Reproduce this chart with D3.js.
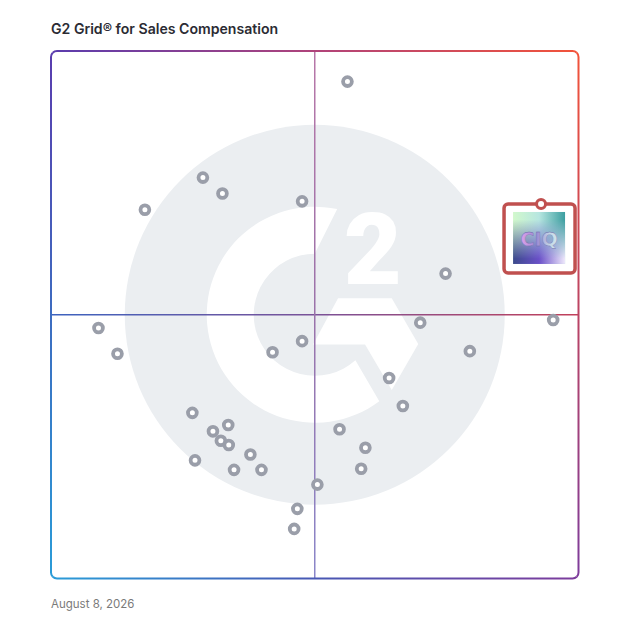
<!DOCTYPE html>
<html>
<head>
<meta charset="utf-8">
<script src="https://cdn.jsdelivr.net/npm/d3@7"></script>
<style>
  body { margin: 0; background: #fff; }
  svg { display: block; }
</style>
</head>
<body>
<svg id="grid" width="628" height="628"></svg>
<script>
const title = "G2 Grid® for Sales Compensation";
const date_label = "August 8, 2026";

// market presence (x) and satisfaction (y), both on a 0-100 scale
const presence = [
  28.8, 32.5, 17.8, 47.6, 74.8, 70.0, 12.6, 47.6, 42.0, 79.4,
  64.1, 66.7, 26.8, 33.6, 30.7, 32.2, 33.7, 54.7, 59.6, 37.8,
  27.3, 34.7, 39.9, 58.8, 50.5, 46.7, 56.2, 9.0, 95.2, 46.1,
];
const satisfaction = [
  76.0, 73.0, 69.9, 71.5, 57.8, 48.5, 42.6, 45.0, 42.9, 43.1,
  38.0, 32.7, 31.4, 29.1, 27.9, 26.1, 25.3, 28.3, 24.8, 23.5,
  22.4, 20.6, 20.6, 20.8, 17.8, 13.2, 94.2, 47.5, 49.0, 9.4,
];

const featured_name = ["CIQ"];
const featured_presence = [92.9];
const featured_satisfaction = [71.0];

const axis_domain = [0, 100];
const axis_split = [50];

let grid = {
  margin: { left: 51, right: 49.5, top: 51, bottom: 49.5 },
  svg: null,
  x: null,
  y: null,
};

function add_gradient(defs, id, x1, y1, x2, y2, stops) {
  const g = defs
    .append("linearGradient")
    .attr("id", id)
    .attr("gradientUnits", "userSpaceOnUse")
    .attr("x1", x1)
    .attr("y1", y1)
    .attr("x2", x2)
    .attr("y2", y2);
  stops.forEach((s) =>
    g.append("stop").attr("offset", s[0]).attr("stop-color", s[1]),
  );
}

function draw_logo(svg, cx, cy) {
  // faint G2 mark behind the points
  const logo = svg.append("g").attr("transform", `translate(${cx},${cy})`);
  logo.append("circle").attr("r", 190).attr("fill", "#ebeef1");

  const rad = (a) => (a * Math.PI) / 180;
  const pt = (r, a) => [r * Math.cos(rad(a)), r * Math.sin(rad(a))];
  const ot = pt(108, -78),
    ob = pt(108, 53.3),
    ib = pt(61, 48.2),
    it = pt(61, -90);
  logo
    .append("path")
    .attr("fill", "#fff")
    .attr(
      "d",
      `M${ot} A108 108 0 1 0 ${ob} L${ib} A61 61 0 1 1 ${it} Z`,
    );

  const chevron = [
    [23.3, -16.5],
    [77, -16.5],
    [103.5, 29.3],
    [77, 75.3],
    [50.3, 29.7],
    [-1.7, 29.7],
  ];
  logo
    .append("path")
    .attr("fill", "#fff")
    .attr("d", d3.line()(chevron) + "Z");

  logo
    .append("text")
    .attr("x", 58)
    .attr("y", -31)
    .attr("text-anchor", "middle")
    .attr("font-family", "Roboto, sans-serif")
    .attr("font-weight", 900)
    .attr("font-size", 100)
    .attr("fill", "#fff")
    .text("2");
}

function draw_frame(svg, defs, x0, y0, x1, y1) {
  const r = 6;
  const c = r * Math.SQRT1_2;

  add_gradient(defs, "frame-top", x0, 0, x1, 0, [
    [0, "#5a3cae"],
    [0.5, "#b0437a"],
    [1, "#f2533a"],
  ]);
  add_gradient(defs, "frame-right", 0, y0, 0, y1, [
    [0, "#f2533a"],
    [0.5, "#bb4464"],
    [1, "#7d3c9c"],
  ]);
  add_gradient(defs, "frame-bottom", x0, 0, x1, 0, [
    [0, "#2a9cd8"],
    [0.5, "#4858b4"],
    [1, "#7d3c9c"],
  ]);
  add_gradient(defs, "frame-left", 0, y0, 0, y1, [
    [0, "#5a3cae"],
    [0.5, "#3d6cc0"],
    [1, "#2a9cd8"],
  ]);

  const sides = [
    {
      id: "frame-top",
      d: `M${x0 + r - c},${y0 + r - c} A${r} ${r} 0 0 1 ${x0 + r},${y0} L${x1 - r},${y0} A${r} ${r} 0 0 1 ${x1 - r + c},${y0 + r - c}`,
    },
    {
      id: "frame-right",
      d: `M${x1 - r + c},${y0 + r - c} A${r} ${r} 0 0 1 ${x1},${y0 + r} L${x1},${y1 - r} A${r} ${r} 0 0 1 ${x1 - r + c},${y1 - r + c}`,
    },
    {
      id: "frame-bottom",
      d: `M${x0 + r - c},${y1 - r + c} A${r} ${r} 0 0 0 ${x0 + r},${y1} L${x1 - r},${y1} A${r} ${r} 0 0 0 ${x1 - r + c},${y1 - r + c}`,
    },
    {
      id: "frame-left",
      d: `M${x0 + r - c},${y0 + r - c} A${r} ${r} 0 0 0 ${x0},${y0 + r} L${x0},${y1 - r} A${r} ${r} 0 0 0 ${x0 + r - c},${y1 - r + c}`,
    },
  ];

  svg
    .append("g")
    .selectAll("path")
    .data(sides)
    .join("path")
    .attr("d", (d) => d.d)
    .attr("fill", "none")
    .attr("stroke", (d) => `url(#${d.id})`)
    .attr("stroke-width", 2);
}

function draw_featured(svg, defs, px, py, name) {
  // tile with the product logo hanging below its point
  add_gradient(defs, "ciq-top", px - 28, 0, px + 24, 0, [
    [0, "#d2f8cc"],
    [0.5, "#b6e6e0"],
    [1, "#3c9ea0"],
  ]);
  add_gradient(defs, "ciq-bottom", px - 28, 0, px + 24, 0, [
    [0, "#3c4a8c"],
    [0.5, "#6a50c8"],
    [1, "#eee8fb"],
  ]);
  add_gradient(defs, "ciq-fade", 0, py + 8, 0, py + 60, [
    [0.15, "#000"],
    [0.9, "#fff"],
  ]);
  add_gradient(defs, "ciq-text", px - 22, 0, px + 22, 0, [
    [0, "#e6a2ec"],
    [0.4, "#9a8ad2"],
    [0.7, "#c4d6e6"],
    [1, "#d8f2f0"],
  ]);
  defs
    .append("mask")
    .attr("id", "ciq-mask")
    .append("rect")
    .attr("x", px - 28)
    .attr("y", py + 8)
    .attr("width", 52)
    .attr("height", 52)
    .attr("fill", "url(#ciq-fade)");

  const g = svg.append("g");
  g.append("rect")
    .attr("x", px - 37)
    .attr("y", py)
    .attr("width", 71)
    .attr("height", 69)
    .attr("rx", 4)
    .attr("fill", "#fff")
    .attr("stroke", "#c0504f")
    .attr("stroke-width", 3.5);

  g.append("rect")
    .attr("x", px - 28)
    .attr("y", py + 8)
    .attr("width", 52)
    .attr("height", 52)
    .attr("fill", "url(#ciq-top)");
  g.append("rect")
    .attr("x", px - 28)
    .attr("y", py + 8)
    .attr("width", 52)
    .attr("height", 52)
    .attr("fill", "url(#ciq-bottom)")
    .attr("mask", "url(#ciq-mask)");

  g.append("text")
    .attr("x", px - 2)
    .attr("y", py + 42)
    .attr("text-anchor", "middle")
    .attr("font-family", "DejaVu Sans, sans-serif")
    .attr("font-weight", "bold")
    .attr("font-size", 19)
    .attr("fill", "url(#ciq-text)")
    .attr("stroke", "#6a6aa8")
    .attr("stroke-width", 0.3)
    .text(name);

  g.append("circle")
    .attr("cx", px)
    .attr("cy", py)
    .attr("r", 4.5)
    .attr("fill", "#fff")
    .attr("stroke", "#c0504f")
    .attr("stroke-width", 3);
}

function create_grid() {
  const svg = d3.select("#grid");
  const width = +svg.attr("width");
  const height = +svg.attr("height");
  const margin = grid.margin;
  const defs = svg.append("defs");

  const x = d3
    .scaleLinear()
    .domain(axis_domain)
    .range([margin.left, width - margin.right]);
  const y = d3
    .scaleLinear()
    .domain(axis_domain)
    .range([height - margin.bottom, margin.top]);
  grid.x = x;
  grid.y = y;

  const [x0, x1] = x.range();
  const [y1, y0] = y.range();

  // title and date
  svg
    .append("text")
    .attr("x", x0)
    .attr("y", 34)
    .attr("font-family", "Inter, sans-serif")
    .attr("font-weight", 600)
    .attr("font-size", 14.1)
    .attr("fill", "#2b2b33")
    .text(title);

  svg
    .append("text")
    .attr("x", x0)
    .attr("y", 608)
    .attr("font-family", "Inter, sans-serif")
    .attr("font-size", 11.5)
    .attr("fill", "#7a7a7a")
    .text(date_label);

  draw_logo(svg, x(axis_split[0]), y(axis_split[0]));

  // quadrant lines
  add_gradient(defs, "split-h", x0, 0, x1, 0, [
    [0, "#3d63bf"],
    [0.5, "#7a5298"],
    [1, "#c2405a"],
  ]);
  add_gradient(defs, "split-v", 0, y0, 0, y1, [
    [0, "#b877a8"],
    [0.5, "#9a72aa"],
    [1, "#8a86c9"],
  ]);

  svg
    .append("line")
    .attr("x1", x0)
    .attr("x2", x1)
    .attr("y1", y(axis_split[0]))
    .attr("y2", y(axis_split[0]))
    .attr("stroke", "url(#split-h)")
    .attr("stroke-width", 1.5);

  svg
    .append("line")
    .attr("x1", x(axis_split[0]))
    .attr("x2", x(axis_split[0]))
    .attr("y1", y0)
    .attr("y2", y1)
    .attr("stroke", "url(#split-v)")
    .attr("stroke-width", 1.5);

  draw_frame(svg, defs, x0, y0, x1, y1);

  // products
  svg
    .append("g")
    .selectAll("circle")
    .data(presence.map((p, i) => ({ p: p, s: satisfaction[i] })))
    .join("circle")
    .attr("cx", (d) => x(d.p))
    .attr("cy", (d) => y(d.s))
    .attr("r", 4.4)
    .attr("fill", "#fff")
    .attr("stroke", "#9a9ea9")
    .attr("stroke-width", 3.8);

  featured_name.forEach((name, i) =>
    draw_featured(
      svg,
      defs,
      x(featured_presence[i]),
      y(featured_satisfaction[i]),
      name,
    ),
  );
}

create_grid();
</script>
</body>
</html>
